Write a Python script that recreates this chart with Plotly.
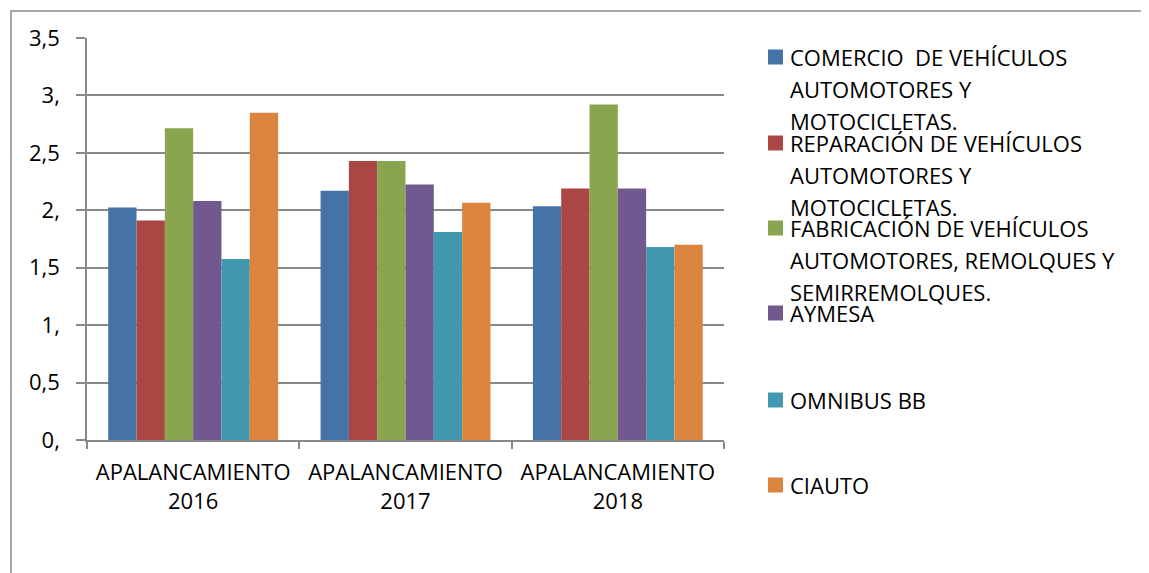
import plotly.graph_objects as go

categories = ["APALANCAMIENTO<br>2016", "APALANCAMIENTO<br>2017", "APALANCAMIENTO<br>2018"]

series_names = [
    "COMERCIO  DE VEHÍCULOS\nAUTOMOTORES Y\nMOTOCICLETAS.",
    "REPARACIÓN DE VEHÍCULOS\nAUTOMOTORES Y\nMOTOCICLETAS.",
    "FABRICACIÓN DE VEHÍCULOS\nAUTOMOTORES, REMOLQUES Y\nSEMIRREMOLQUES.",
    "AYMESA",
    "OMNIBUS BB",
    "CIAUTO",
]

comercio = [2.025, 2.17, 2.036]
reparacion = [1.91, 2.43, 2.19]
fabricacion = [2.715, 2.43, 2.92]
aymesa = [2.08, 2.225, 2.19]
omnibus = [1.575, 1.81, 1.68]
ciauto = [2.85, 2.065, 1.70]
series_values = [comercio, reparacion, fabricacion, aymesa, omnibus, ciauto]

colors = ["#4572A7", "#AA4643", "#89A54E", "#71588F", "#4198AF", "#DB843D"]

y_tickvals = [0, 0.5, 1, 1.5, 2, 2.5, 3, 3.5]
y_ticktext = ["0,", "0,5", "1,", "1,5", "2,", "2,5", "3,", "3,5"]

OFF = 8  # page body margin
W, H = 1149 - OFF, 573 - OFF
ML, MR, MT, MB = 87 - OFF, 425, 38 - OFF, 133
PW, PH = W - ML - MR, H - MT - MB

def px_x(px):
    return (px - OFF - ML) / PW

def px_y(py):
    return (H - MB - (py - OFF)) / PH

FONT = "Open Sans"
FS = 22
GRID = "#898989"

fig = go.Figure()
for name, vals, col in zip(series_names, series_values, colors):
    fig.add_trace(go.Bar(
        x=categories, y=vals, name=name.replace("\n", " "),
        marker=dict(color=col, line=dict(width=0)),
        showlegend=False,
    ))

shapes = []
annotations = []
# outer chart border
shapes.append(dict(type="rect", xref="paper", yref="paper",
                   x0=px_x(11), x1=px_x(1180), y0=px_y(620), y1=px_y(11),
                   line=dict(color="#8c8c8c", width=1.5), fillcolor="rgba(0,0,0,0)",
                   layer="below"))

# manual legend
item_tops = [57, 143, 228, 313, 400, 485]
line_gap = 32
for name, col, yc in zip(series_names, colors, item_tops):
    shapes.append(dict(type="rect", xref="paper", yref="paper",
                       x0=px_x(768), x1=px_x(783), y0=px_y(yc + 7.5), y1=px_y(yc - 7.5),
                       fillcolor=col, line=dict(width=0)))
    for j, line in enumerate(name.split("\n")):
        annotations.append(dict(xref="paper", yref="paper", x=px_x(788), y=px_y(yc + j * line_gap),
                                xanchor="left", yanchor="middle", showarrow=False,
                                text=line, font=dict(family=FONT, size=FS, color="#000000")))

fig.update_layout(
    width=W, height=H,
    margin=dict(l=ML, r=MR, t=MT, b=MB, autoexpand=False),
    paper_bgcolor="white", plot_bgcolor="white",
    barmode="group", bargap=0.2, bargroupgap=0,
    font=dict(family=FONT, size=FS, color="#000000"),
    shapes=shapes, annotations=annotations,
    showlegend=False,
)
fig.update_yaxes(
    range=[0, 3.5], tickvals=y_tickvals, ticktext=y_ticktext,
    showgrid=True, gridcolor=GRID, gridwidth=1.5,
    showline=True, linecolor=GRID, linewidth=1.5,
    ticks="outside", ticklen=9, tickcolor=GRID, tickwidth=1.5,
    ticklabelstandoff=12, zeroline=False,
    tickfont=dict(family=FONT, size=FS, color="#000000"),
)
fig.update_xaxes(
    showline=True, linecolor=GRID, linewidth=1.5,
    ticks="outside", tickson="boundaries", ticklen=7, tickcolor=GRID, tickwidth=1.5,
    ticklabelstandoff=12,
    tickfont=dict(family=FONT, size=FS, color="#000000"),
)
fig.write_html("out.html")
